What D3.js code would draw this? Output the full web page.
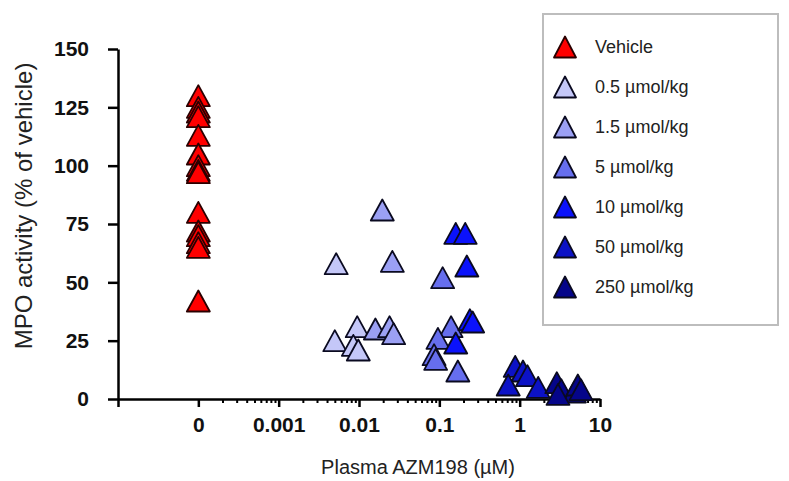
<!DOCTYPE html>
<html>
<head>
<meta charset="utf-8">
<script src="https://cdn.jsdelivr.net/npm/d3@7"></script>
<style>
  body { margin: 0; background: #fff; }
  svg { display: block; font-family: "Liberation Sans", Arial, sans-serif; }
</style>
</head>
<body>
<svg id="chart" width="789" height="481"></svg>
<script>
// THE DATA
const seriesNames = ["Vehicle", "0.5 µmol/kg", "1.5 µmol/kg", "5 µmol/kg", "10 µmol/kg", "50 µmol/kg", "250 µmol/kg"];
const seriesColors = ["#ff0000", "#c4c7f8", "#9ba0f4", "#666eee", "#0b12fb", "#0c12c6", "#05058a"];

// plasma concentration (µM), 0 = vehicle
const vehicleX = [0, 0, 0, 0, 0, 0, 0, 0, 0, 0, 0, 0, 0, 0, 0];
const vehicleY = [130, 125, 123, 121, 113, 105, 100, 98, 97, 80, 72, 70, 67, 65, 42];
const dose05X = [0.0052, 0.005, 0.0095, 0.0085, 0.0098];
const dose05Y = [58, 25, 31, 23, 21];
const dose15X = [0.0195, 0.026, 0.016, 0.024, 0.027];
const dose15Y = [81, 59, 30, 31, 28];
const dose5X = [0.11, 0.14, 0.096, 0.086, 0.09, 0.17];
const dose5Y = [52, 31, 26, 19, 17, 12];
const dose10X = [0.16, 0.21, 0.22, 0.24, 0.26, 0.16];
const dose10Y = [71, 71, 57, 34, 33, 24];
const dose50X = [0.88, 1.1, 0.72, 1.25, 1.7];
const dose50Y = [14, 12, 6, 10, 5];
const dose250X = [2.9, 3.3, 4.8, 5.3, 5.8, 3.0];
const dose250Y = [7, 4, 3, 6, 4, 2];

const xTickValues = [1e-4, 1e-3, 1e-2, 1e-1, 1, 10];
const xTickLabels = ["0", "0.001", "0.01", "0.1", "1", "10"];
const yTickValues = [0, 25, 50, 75, 100, 125, 150];

const seriesX = [vehicleX, dose05X, dose15X, dose5X, dose10X, dose50X, dose250X];
const seriesY = [vehicleY, dose05Y, dose15Y, dose5Y, dose10Y, dose50Y, dose250Y];

// SETTING UP
const svg = d3.select("#chart");
const x = d3.scaleLog().domain([1e-5, 10]).range([118, 600]);
const y = d3.scaleLinear().domain([0, 150]).range([399, 49]);
const xPos = c => c === 0 ? x(1e-4) : x(c); // vehicle sits at the "0" slot

// triangle marker, centered on its box
const tri = (w, h) => `M0,${-h / 2}L${w / 2},${h / 2}L${-w / 2},${h / 2}Z`;

// y axis
const yAxis = svg.append("g")
  .attr("transform", "translate(118,0)")
  .call(d3.axisLeft(y).tickValues(yTickValues).tickSize(10).tickPadding(19).tickSizeOuter(0));
yAxis.select(".domain").attr("stroke", "#000").attr("stroke-width", 2.5);
yAxis.selectAll(".tick line").attr("stroke-width", 2.5);
yAxis.selectAll("text").attr("font-size", 21).attr("font-weight", "bold")
  .attr("fill", "#111").attr("font-family", "Liberation Sans, Arial, sans-serif");

// x axis: minor ticks first
const minor = [];
for (let e = -4; e < 1; e++) {
  for (let m = 2; m <= 9; m++) minor.push(m * Math.pow(10, e));
}
svg.append("g")
  .attr("transform", "translate(0,399)")
  .call(d3.axisBottom(x).tickValues(minor).tickSize(4).tickFormat(""))
  .call(g => g.select(".domain").remove())
  .selectAll("line").attr("stroke-width", 2);

const xAxis = svg.append("g")
  .attr("transform", "translate(0,399)")
  .call(d3.axisBottom(x).tickValues([1e-5].concat(xTickValues)).tickSize(8).tickPadding(10).tickSizeOuter(0)
    .tickFormat(d => {
      const i = xTickValues.indexOf(d);
      return i < 0 ? "" : xTickLabels[i];
    }));
xAxis.select(".domain").attr("stroke", "#000").attr("stroke-width", 2.5);
xAxis.selectAll(".tick line").attr("stroke-width", 2.5);
xAxis.selectAll("text").attr("font-size", 21).attr("font-weight", "bold")
  .attr("fill", "#111").attr("font-family", "Liberation Sans, Arial, sans-serif");

// axis titles
svg.append("text")
  .attr("transform", "translate(32,206) rotate(-90)")
  .attr("text-anchor", "middle")
  .attr("font-size", 24)
  .attr("fill", "#222")
  .text("MPO activity (% of vehicle)");

svg.append("text")
  .attr("x", 418)
  .attr("y", 474)
  .attr("text-anchor", "middle")
  .attr("font-size", 20)
  .attr("fill", "#222")
  .text("Plasma AZM198 (µM)");

// POINTS
seriesNames.forEach((name, i) => {
  const pts = seriesX[i].map((c, j) => ({ c: c, v: seriesY[i][j] }));
  svg.append("g")
    .selectAll("path")
    .data(pts)
    .join("path")
    .attr("d", tri(23, 21))
    .attr("transform", d => `translate(${xPos(d.c)},${y(d.v)})`)
    .attr("fill", seriesColors[i])
    .attr("stroke", i === 0 ? "#2a0000" : "#0a0a20")
    .attr("stroke-width", 1.8)
    .attr("stroke-linejoin", "round");
});

// LEGEND
const legend = svg.append("g");
legend.append("rect")
  .attr("x", 543).attr("y", 14)
  .attr("width", 235).attr("height", 311)
  .attr("fill", "#fff")
  .attr("stroke", "#bdbdbd")
  .attr("stroke-width", 2);

const rowY = d3.scalePoint().domain(seriesNames).range([47, 287]);
seriesNames.forEach((name, i) => {
  legend.append("path")
    .attr("d", tri(22, 21))
    .attr("transform", `translate(565,${rowY(name)})`)
    .attr("fill", seriesColors[i])
    .attr("stroke", i === 0 ? "#2a0000" : "#0a0a20")
    .attr("stroke-width", 1.8)
    .attr("stroke-linejoin", "round");
  legend.append("text")
    .attr("x", 595)
    .attr("y", rowY(name))
    .attr("dy", "0.35em")
    .attr("font-size", 18)
    .attr("fill", "#222")
    .text(name);
});
</script>
</body>
</html>
